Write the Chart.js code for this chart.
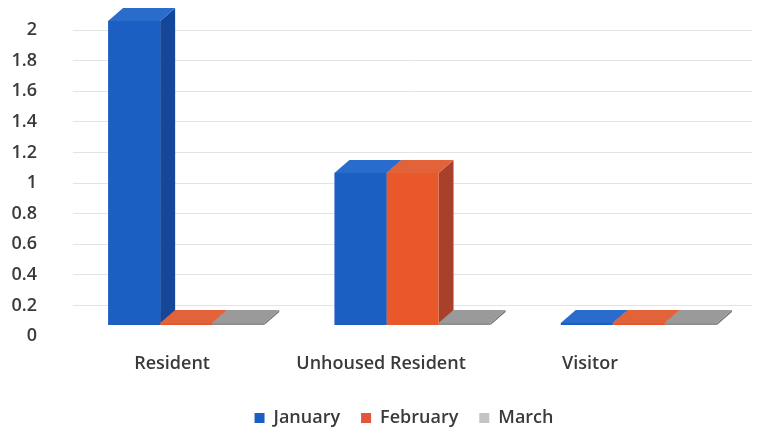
<!DOCTYPE html>
<html><head><meta charset="utf-8">
<script src="https://cdn.jsdelivr.net/npm/chart.js@4.4.1/dist/chart.umd.min.js"></script>
<style>html,body{margin:0;padding:0;background:#fff;}</style>
</head><body>
<canvas id="c" width="774" height="434" style="width:774px;height:434px;display:block"></canvas>
<script>
const categories = ['Resident', 'Unhoused Resident', 'Visitor'];
const seriesNames = ['January', 'February', 'March'];
const january = [2, 1, 0];
const february = [0, 1, 0];
const march = [0, 0, 0];
const yTicks = [0, 0.2, 0.4, 0.6, 0.8, 1, 1.2, 1.4, 1.6, 1.8, 2];
const yTickLabels = ['0', '0.2', '0.4', '0.6', '0.8', '1', '1.2', '1.4', '1.6', '1.8', '2'];

const faceStyles = [
  { front: '#1c5fc2', side: '#14479a', top: '#2a6ccc', legend: '#1c5fc2' },
  { front: '#e8582a', side: '#a9402c', top: '#e2623a', legend: '#e0573a' },
  { front: '#8f8f8f', side: '#777777', top: '#9a9a9a', legend: '#c4c4c4' }
];
const DX = 15, DY = -13;

const bar3d = {
  id: 'bar3d',
  afterLayout(chart) {
    const lg = chart.legend;
    if (lg) { lg.left += 28; lg.right += 28; lg.top += 3; lg.bottom += 3; }
  },
  beforeDatasetsDraw(chart) {
    const ctx = chart.ctx;
    const items = [];
    chart.data.datasets.forEach((ds, i) => {
      const meta = chart.getDatasetMeta(i);
      meta.data.forEach(el => items.push({ el, st: faceStyles[i] }));
    });
    items.sort((a, b) => a.el.x - b.el.x);
    ctx.save();
    items.forEach(({ el, st }) => {
      const l = el.x - el.width / 2, r = el.x + el.width / 2, t = el.y, b = el.base;
      ctx.fillStyle = st.side;
      ctx.beginPath();
      ctx.moveTo(r, b); ctx.lineTo(r + DX, b + DY); ctx.lineTo(r + DX, t + DY); ctx.lineTo(r, t);
      ctx.closePath(); ctx.fill();
      ctx.fillStyle = st.top;
      ctx.beginPath();
      ctx.moveTo(l, t); ctx.lineTo(r, t); ctx.lineTo(r + DX, t + DY); ctx.lineTo(l + DX, t + DY);
      ctx.closePath(); ctx.fill();
    });
    ctx.restore();
  }
};

const fontFamily = '"Open Sans", Lato, sans-serif';
const textColor = '#3a3a3a';
const textFont = { family: fontFamily, size: 18, weight: '600' };

new Chart(document.getElementById('c'), {
  type: 'bar',
  data: {
    labels: categories,
    datasets: [january, february, march].map((vals, i) => ({
      label: seriesNames[i],
      data: vals,
      backgroundColor: faceStyles[i].front,
      borderWidth: 0,
      minBarLength: 2,
      barPercentage: 1,
      categoryPercentage: 0.69,
      xAxisID: 'x',
      yAxisID: 'y'
    }))
  },
  options: {
    responsive: false,
    animation: false,
    events: [],
    layout: { padding: { left: 0, top: 21, right: 22, bottom: 0 } },
    scales: {
      x: { type: 'category', display: false, offset: true },
      y: { type: 'linear', display: false, min: 0, max: 2, offset: false },
      xl: {
        type: 'linear', position: 'bottom', min: -0.474, max: 2.775, offset: false,
        grid: { display: false, offset: false }, border: { display: false },
        afterBuildTicks: s => { s.ticks = categories.map((c, i) => ({ value: i })); },
        afterFit: s => { s.height = 60; s.paddingLeft = 0; s.paddingRight = 0; },
        ticks: {
          autoSkip: false, maxRotation: 0, padding: 20,
          color: textColor, font: textFont,
          callback: v => categories[v]
        }
      },
      yl: {
        type: 'linear', position: 'left', min: 0.0719, max: 2.059, offset: false,
        beginAtZero: false,
        border: { display: false },
        grid: {
          drawTicks: false, offset: false,
          color: c => (c.tick && c.tick.value === 0) ? 'rgba(0,0,0,0)' : '#e3e3e3',
          lineWidth: 1
        },
        afterBuildTicks: s => { s.ticks = yTicks.map(v => ({ value: v })); },
        afterFit: s => { s.width = 73; s.paddingTop = 0; s.paddingBottom = 0; },
        ticks: {
          autoSkip: false, padding: 36,
          color: textColor, font: textFont,
          callback: (v) => yTickLabels[yTicks.indexOf(v)]
        }
      }
    },
    plugins: {
      tooltip: { enabled: false },
      legend: {
        position: 'bottom',
        labels: {
          boxWidth: 10, boxHeight: 10, padding: 21,
          color: textColor, font: textFont,
          generateLabels: chart => chart.data.datasets.map((ds, i) => ({
            text: ds.label, fillStyle: faceStyles[i].legend, strokeStyle: faceStyles[i].legend,
            lineWidth: 0, datasetIndex: i, hidden: false, fontColor: textColor
          }))
        }
      }
    }
  },
  plugins: [bar3d]
});
</script>
</body></html>
